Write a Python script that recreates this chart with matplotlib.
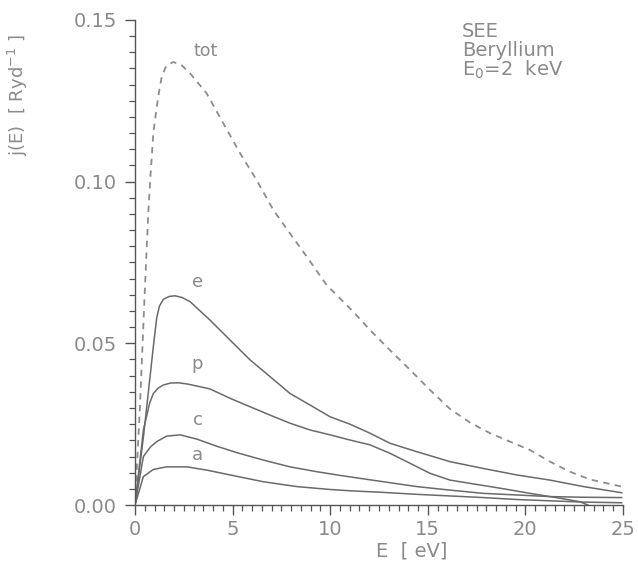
import numpy as np
import matplotlib
matplotlib.use("Agg")
import matplotlib.pyplot as plt
from matplotlib.ticker import MultipleLocator

# values (E in eV, j in 1/Ryd)
E_tot = [0.0, 0.25, 0.51, 0.68, 0.80, 0.94, 1.11, 1.25, 1.37, 1.6, 1.96, 2.35, 2.82,
         3.67, 4.53, 5.38, 6.23, 7.09, 7.94, 8.80, 9.82, 11.18, 12.04, 13.06, 14.09,
         15.11, 16.14, 17.16, 18.19, 19.21, 20.24, 21.26, 22.28, 23.31, 24.93]
j_tot = [0.0, 0.030, 0.0674, 0.0902, 0.1026, 0.115, 0.123, 0.1285, 0.1325, 0.1358,
         0.137, 0.1362, 0.1335, 0.1273, 0.118, 0.1088, 0.1005, 0.0912, 0.084, 0.0768,
         0.0680, 0.0598, 0.0541, 0.0479, 0.0418, 0.0356, 0.0297, 0.0255, 0.0222,
         0.0196, 0.0170, 0.0134, 0.0103, 0.0079, 0.0057]

E_e = [0.0, 0.45, 0.94, 1.11, 1.25, 1.45, 1.75, 2.05, 2.4, 2.82, 3.84, 4.87, 5.89,
       6.92, 7.94, 8.97, 9.99, 11.01, 12.04, 13.06, 14.43, 16.14, 17.84, 19.55, 21.26,
       22.97, 24.93]
j_e = [0.0, 0.022, 0.049, 0.0578, 0.0615, 0.0636, 0.0645, 0.0647, 0.0642, 0.0629,
       0.0572, 0.0510, 0.0449, 0.0397, 0.0345, 0.0309, 0.0273, 0.0250, 0.0222,
       0.0191, 0.0165, 0.0134, 0.0113, 0.0093, 0.0077, 0.0057, 0.0038]

E_p = [0.0, 0.43, 0.75, 0.94, 1.2, 1.45, 1.8, 2.22, 2.7, 3.16, 3.84, 4.87, 5.89, 6.92,
       7.94, 8.97, 9.99, 11.01, 12.04, 13.06, 14.09, 15.11, 16.14, 17.16, 18.70,
       20.24, 21.77, 22.8, 23.2]
j_p = [0.0, 0.0232, 0.0315, 0.0345, 0.0362, 0.0371, 0.0377, 0.0378, 0.0374, 0.0368,
       0.0359, 0.0330, 0.0304, 0.0278, 0.0253, 0.0232, 0.0217, 0.0201, 0.0186,
       0.0160, 0.0129, 0.0098, 0.0077, 0.0067, 0.0052, 0.0036, 0.0021, 0.0010, 0.0]

E_c = [0.0, 0.43, 0.8, 1.11, 1.62, 2.31, 3.16, 4.18, 5.21, 6.57, 7.94, 9.31, 10.67,
       12.72, 14.43, 16.14, 17.84, 19.55, 21.26, 22.97, 24.93]
j_c = [0.0, 0.0150, 0.0180, 0.0196, 0.0213, 0.0217, 0.0204, 0.0182, 0.0162, 0.0139,
       0.0118, 0.0103, 0.0090, 0.0072, 0.0057, 0.0046, 0.0036, 0.0031, 0.0026,
       0.0024, 0.0023]

E_a = [0.0, 0.43, 0.94, 1.62, 2.65, 3.67, 4.87, 6.57, 8.28, 9.99, 11.01, 12.72,
       14.43, 16.14, 17.84, 19.55, 21.26, 22.97, 24.93]
j_a = [0.0, 0.0088, 0.0110, 0.0118, 0.0118, 0.0108, 0.0093, 0.0072, 0.0057, 0.0048,
       0.0044, 0.0039, 0.0033, 0.0028, 0.0023, 0.0017, 0.0013, 0.0009, 0.0007]

curve_labels = ["e", "p", "c", "a"]
label_pos = [(3.2, 0.069), (3.2, 0.0435), (3.2, 0.0262), (3.2, 0.0155)]

txt = "#8a8a8a"
line = "#6a6a6a"

fig = plt.figure(figsize=(6.38, 5.74), dpi=100)
ax = fig.add_axes([0.2116, 0.1202, 0.7649, 0.845])

ax.plot(E_tot, j_tot, color="#8c8c8c", lw=1.3, ls=(0, (3.5, 3)))
for E, j in [(E_e, j_e), (E_p, j_p), (E_c, j_c), (E_a, j_a)]:
    ax.plot(E, j, color=line, lw=1.1)

ax.text(3.6, 0.1405, "tot", color=txt, fontsize=12.5, ha="center", va="center")
for lab, (x, y) in zip(curve_labels, label_pos):
    ax.text(x, y, lab, color=txt, fontsize=13, ha="center", va="center")

ax.text(0.67, 0.995, "SEE\nBeryllium\nE$_{0}$=2  keV", transform=ax.transAxes,
        color=txt, fontsize=14, ha="left", va="top", linespacing=0.95)

ax.set_xlim(0, 25)
ax.set_ylim(0, 0.15)
ax.xaxis.set_major_locator(MultipleLocator(5))
ax.xaxis.set_minor_locator(MultipleLocator(0.5))
ax.yaxis.set_major_locator(MultipleLocator(0.05))
ax.yaxis.set_minor_locator(MultipleLocator(0.005))
ax.xaxis.set_major_formatter(matplotlib.ticker.FormatStrFormatter("%d"))
ax.yaxis.set_major_formatter(matplotlib.ticker.FormatStrFormatter("%.2f"))

for s in ["top", "right"]:
    ax.spines[s].set_visible(False)
for s in ["left", "bottom"]:
    ax.spines[s].set_color("#555555")
    ax.spines[s].set_linewidth(1.0)

ax.tick_params(which="major", direction="out", length=7, width=1, color="#555555",
               labelcolor=txt, labelsize=14)
ax.tick_params(which="minor", direction="out", length=4, width=0.9, color="#555555")
ax.tick_params(axis="x", pad=4)
ax.tick_params(axis="y", pad=6)

fig.text(0.028, 0.835, "j(E)  [ Ryd$^{-1}$ ]", rotation=90, color=txt, fontsize=13,
         ha="center", va="center")
fig.text(0.645, 0.04, "E  [ eV]", color=txt, fontsize=14, ha="center", va="center")

fig.savefig("out.png", dpi=100, facecolor="white")
